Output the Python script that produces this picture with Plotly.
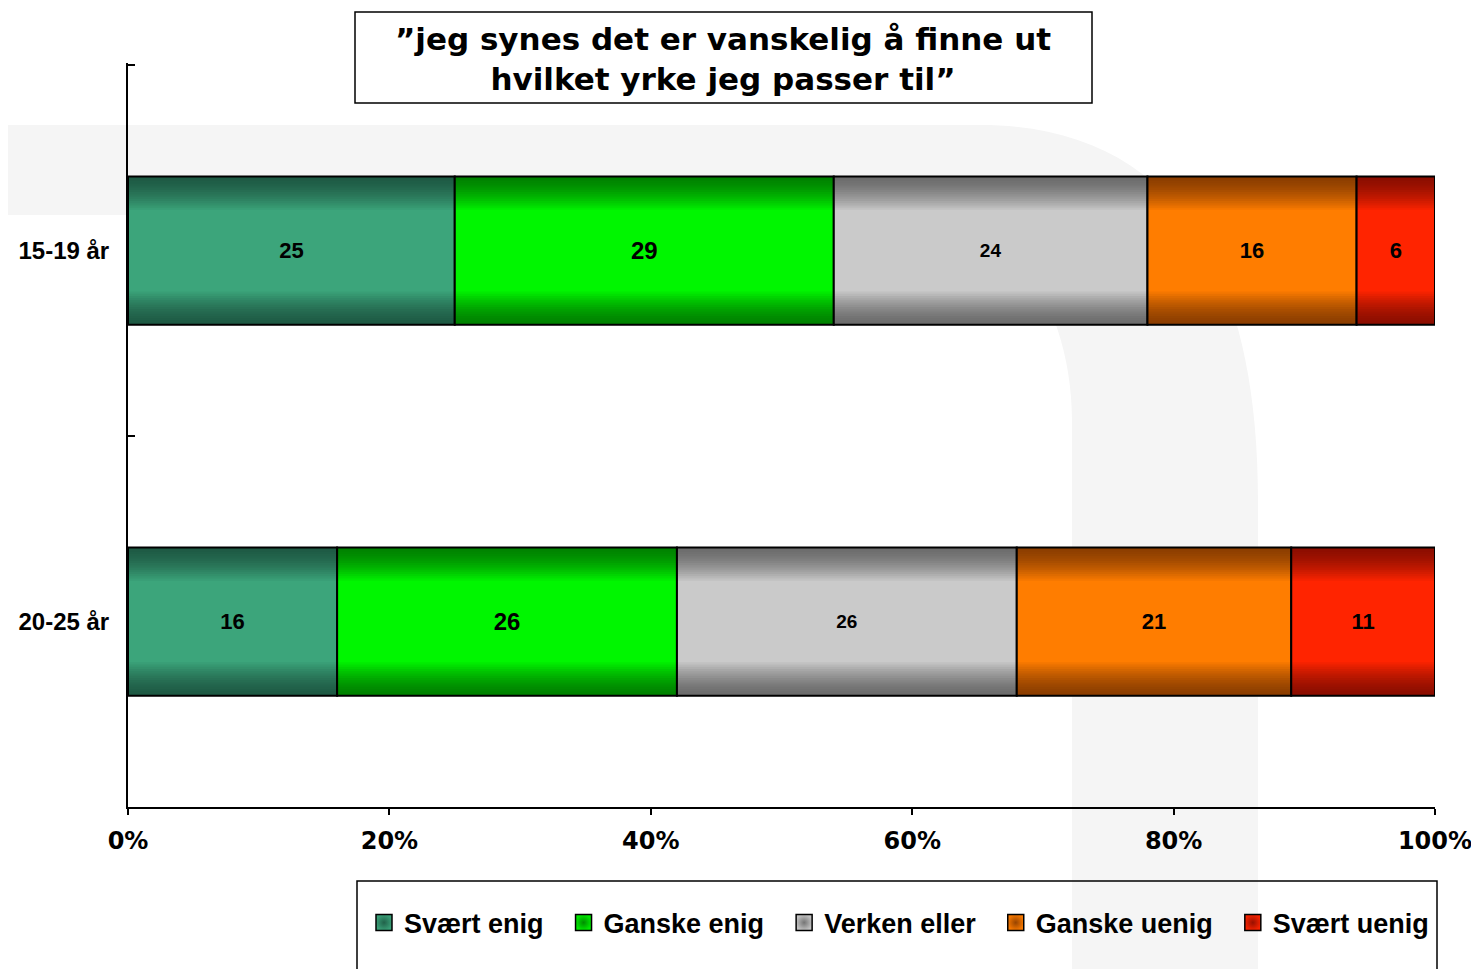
import plotly.graph_objects as go

# ---- data ----
age_groups = ['15-19 år', '20-25 år']
responses = ['Svært enig', 'Ganske enig', 'Verken eller', 'Ganske uenig', 'Svært uenig']
svaert_enig = [25, 16]
ganske_enig = [29, 26]
verken_eller = [24, 26]
ganske_uenig = [16, 21]
svaert_uenig = [6, 11]
x_ticks = [0, 20, 40, 60, 80, 100]
title_text = '”jeg synes det er vanskelig å finne ut<br>hvilket yrke jeg passer til”'

series = [svaert_enig, ganske_enig, verken_eller, ganske_uenig, svaert_uenig]

# dark edge / bright middle colours used to fake the vertical shading
dark = [(30, 90, 68), (0, 130, 0), (108, 108, 108), (140, 62, 0), (140, 14, 0)]
light = [(60, 165, 123), (0, 246, 0), (202, 202, 202), (255, 125, 0), (255, 36, 0)]
label_sizes = [22, 24, 19, 22, 22]

BAR_W = 0.4
N_LAYERS = 16

# page has an 8px body margin, keep the whole page inside the window
OFF = 8
FIG_W, FIG_H = 1479 - 2 * OFF, 969 - OFF
M_L, M_R, M_T, M_B = 128 - OFF, 1479 - OFF - 1435, 63 - OFF, 969 - 807
PW = FIG_W - M_L - M_R
PH = FIG_H - M_T - M_B


# screen pixel -> paper coords
def px(x):
    return (x - 128) / PW


def py(y):
    return (807 - y) / PH


def mix(c1, c2, t):
    return 'rgb(%d,%d,%d)' % tuple(round(a + (b - a) * t) for a, b in zip(c1, c2))


fig = go.Figure()

bases = [[0, 0]]
for s in series[:-1]:
    bases.append([b + v for b, v in zip(bases[-1], s)])

for k, name in enumerate(responses):
    vals = series[k]
    # layered bars, outer dark -> inner bright
    for i in range(N_LAYERS):
        t = i / (N_LAYERS - 1)
        w = BAR_W * (1 - 0.45 * t)
        fig.add_trace(go.Bar(
            y=age_groups, x=vals, base=bases[k], orientation='h',
            width=w, marker=dict(color=mix(dark[k], light[k], t ** 1.5), line=dict(width=0)),
            showlegend=False, hoverinfo='skip'
        ))
    # border + label on top
    fig.add_trace(go.Bar(
        y=age_groups, x=vals, base=bases[k], orientation='h', width=BAR_W,
        marker=dict(color='rgba(0,0,0,0)', line=dict(color='black', width=2)),
        text=vals, textposition='inside', insidetextanchor='middle',
        textfont=dict(family='Liberation Sans, Arial', size=label_sizes[k], color='black', weight='bold'),
        constraintext='none', showlegend=False, name=name,
        hovertemplate=name + ': %{x}<extra></extra>'
    ))

# legend entries
for k, name in enumerate(responses):
    fig.add_trace(go.Scatter(
        x=[None], y=[None], mode='markers',
        name=name + ('\u00a0\u00a0' if k < len(responses) - 1 else ''),
        marker=dict(symbol='square', size=16, color=mix(dark[k], light[k], 0.9),
                    gradient=dict(type='radial', color=mix(dark[k], light[k], 0.1)),
                    line=dict(color='black', width=1.5)),
        showlegend=True
    ))

shapes = [
    # faint background watermark
    dict(type='path', xref='paper', yref='paper', layer='below',
         fillcolor='#f5f5f5', line=dict(width=0),
         path=(f'M {px(-20)},{py(125)} L {px(980)},{py(125)} '
               f'C {px(1160)},{py(125)} {px(1258)},{py(250)} {px(1258)},{py(500)} '
               f'L {px(1258)},{py(990)} L {px(1072)},{py(990)} L {px(1072)},{py(420)} '
               f'C {px(1072)},{py(320)} {px(1020)},{py(215)} {px(930)},{py(215)} '
               f'L {px(-20)},{py(215)} Z')),
    # title box
    dict(type='rect', xref='paper', yref='paper',
         x0=px(355), x1=px(1092), y0=py(12), y1=py(103),
         line=dict(color='black', width=1.5), fillcolor='white', layer='below'),
    # legend box
    dict(type='rect', xref='paper', yref='paper',
         x0=px(357), x1=px(1437), y0=py(881), y1=py(990),
         line=dict(color='black', width=1.5), fillcolor='rgba(0,0,0,0)'),
]

fig.update_layout(
    width=FIG_W, height=FIG_H,
    barmode='overlay',
    paper_bgcolor='white', plot_bgcolor='rgba(0,0,0,0)',
    margin=dict(l=M_L, r=M_R, t=M_T, b=M_B, pad=0, autoexpand=False),
    title=dict(text=title_text, x=(723 - OFF) / FIG_W, xanchor='center',
               y=1 - (50 - OFF) / FIG_H, yanchor='middle',
               font=dict(family='DejaVu Sans, Verdana', size=31, color='black', weight='bold')),
    xaxis=dict(range=[0, 100], tickvals=x_ticks, ticktext=[f'{v}%' for v in x_ticks],
               showgrid=False, zeroline=False, automargin=False,
               showline=True, linecolor='black', linewidth=2, ticks='outside', ticklen=6,
               tickwidth=2, tickcolor='black', ticklabelstandoff=5, ticklabeloverflow='allow',
               tickfont=dict(family='DejaVu Sans, Verdana', size=24, color='black', weight='bold')),
    yaxis=dict(categoryorder='array', categoryarray=age_groups, range=[1.5, -0.506],
               showgrid=False, zeroline=False, showline=True, linecolor='black', linewidth=2,
               automargin=False,
               ticks='inside', ticklen=7, tickwidth=2, tickcolor='black', tickson='boundaries',
               ticklabelstandoff=12,
               tickfont=dict(family='Liberation Sans, Arial', size=24, color='black', weight='bold')),
    legend=dict(orientation='h', x=px(364), xanchor='left', y=py(923), yanchor='middle',
                bgcolor='rgba(0,0,0,0)', traceorder='normal',
                font=dict(family='Liberation Sans, Arial', size=27, color='black', weight='bold')),
    shapes=shapes,
)

fig.write_html("out.html")
